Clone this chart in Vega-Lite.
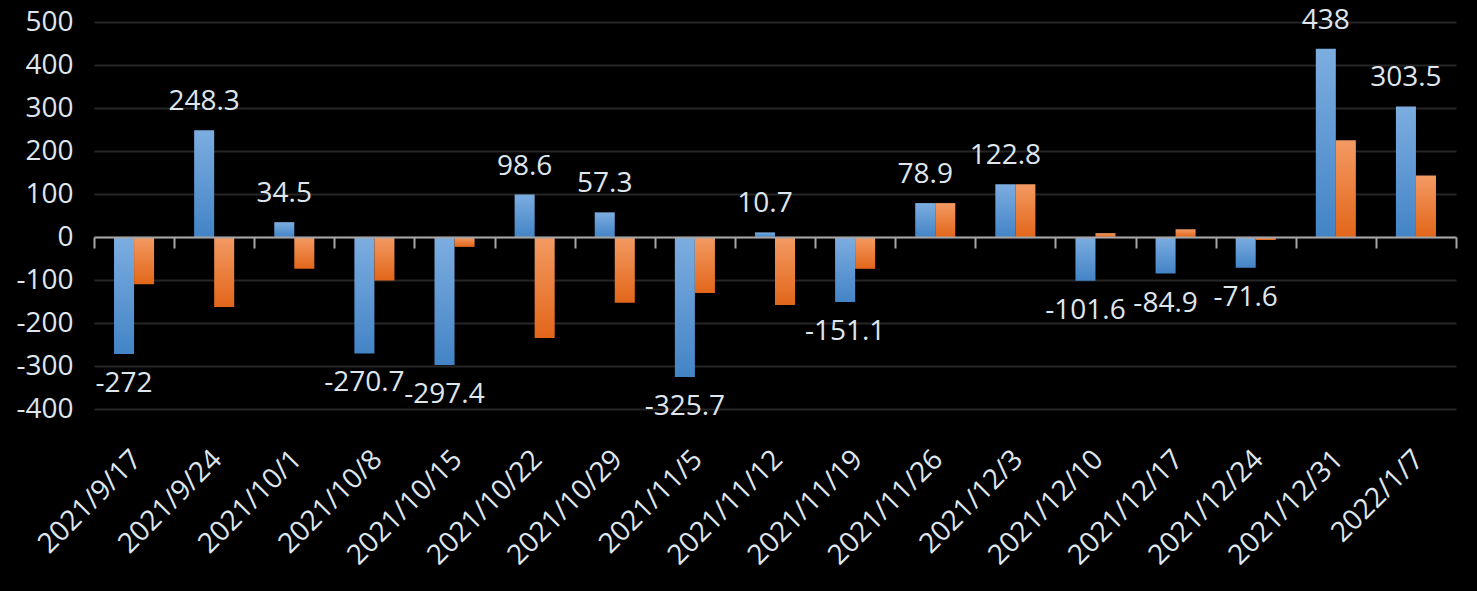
{
  "$schema": "https://vega.github.io/schema/vega-lite/v6.json",
  "width": 1362,
  "height": 387,
  "autosize": "none",
  "padding": {"left": 94, "top": 22, "right": 21, "bottom": 182},
  "background": "#000000",
  "config": {
    "view": {"stroke": null},
    "font": "Open Sans",
    "locale": {"number": {"decimal": ".", "thousands": ",", "grouping": [3], "currency": ["$", ""], "minus": "-"}}
  },
  "data": {
    "values": [
      {"date": "2021/9/17", "series": "s1", "value": -272},
      {"date": "2021/9/17", "series": "s2", "value": -110},
      {"date": "2021/9/24", "series": "s1", "value": 248.3},
      {"date": "2021/9/24", "series": "s2", "value": -163},
      {"date": "2021/10/1", "series": "s1", "value": 34.5},
      {"date": "2021/10/1", "series": "s2", "value": -74},
      {"date": "2021/10/8", "series": "s1", "value": -270.7},
      {"date": "2021/10/8", "series": "s2", "value": -101},
      {"date": "2021/10/15", "series": "s1", "value": -297.4},
      {"date": "2021/10/15", "series": "s2", "value": -23},
      {"date": "2021/10/22", "series": "s1", "value": 98.6},
      {"date": "2021/10/22", "series": "s2", "value": -235},
      {"date": "2021/10/29", "series": "s1", "value": 57.3},
      {"date": "2021/10/29", "series": "s2", "value": -153},
      {"date": "2021/11/5", "series": "s1", "value": -325.7},
      {"date": "2021/11/5", "series": "s2", "value": -130},
      {"date": "2021/11/12", "series": "s1", "value": 10.7},
      {"date": "2021/11/12", "series": "s2", "value": -158},
      {"date": "2021/11/19", "series": "s1", "value": -151.1},
      {"date": "2021/11/19", "series": "s2", "value": -74},
      {"date": "2021/11/26", "series": "s1", "value": 78.9},
      {"date": "2021/11/26", "series": "s2", "value": 78.9},
      {"date": "2021/12/3", "series": "s1", "value": 122.8},
      {"date": "2021/12/3", "series": "s2", "value": 122.8},
      {"date": "2021/12/10", "series": "s1", "value": -101.6},
      {"date": "2021/12/10", "series": "s2", "value": 9},
      {"date": "2021/12/17", "series": "s1", "value": -84.9},
      {"date": "2021/12/17", "series": "s2", "value": 18},
      {"date": "2021/12/24", "series": "s1", "value": -71.6},
      {"date": "2021/12/24", "series": "s2", "value": -7},
      {"date": "2021/12/31", "series": "s1", "value": 438},
      {"date": "2021/12/31", "series": "s2", "value": 225},
      {"date": "2022/1/7", "series": "s1", "value": 303.5},
      {"date": "2022/1/7", "series": "s2", "value": 143}
    ]
  },
  "encoding": {
    "x": {
      "field": "date",
      "type": "nominal",
      "sort": null,
      "scale": {
        "domain": ["2021/9/17", "2021/9/24", "2021/10/1", "2021/10/8", "2021/10/15", "2021/10/22", "2021/10/29", "2021/11/5", "2021/11/12", "2021/11/19", "2021/11/26", "2021/12/3", "2021/12/10", "2021/12/17", "2021/12/24", "2021/12/31", "2022/1/7"],
        "paddingInner": 0,
        "paddingOuter": 0
      },
      "axis": {
        "title": null,
        "orient": "bottom",
        "offset": -172,
        "zindex": 1,
        "grid": false,
        "domainColor": "#a6a6a6",
        "domainWidth": 2,
        "ticks": true,
        "tickBand": "extent",
        "tickColor": "#a6a6a6",
        "tickWidth": 2,
        "tickSize": 11,
        "labelAngle": -45,
        "labelAlign": "right",
        "labelBaseline": "top",
        "labelFontSize": 28,
        "labelFont": "Open Sans",
        "labelColor": "#dfe6ee",
        "labelPadding": 197,
        "labelOffset": -7
      }
    },
    "xOffset": {
      "field": "series",
      "type": "nominal",
      "scale": {"domain": ["s1", "s2"], "paddingInner": 0, "paddingOuter": 1.35}
    },
    "y": {
      "field": "value",
      "type": "quantitative",
      "scale": {"domain": [-400, 500], "nice": false, "zero": false},
      "axis": {
        "title": null,
        "values": [-400, -300, -200, -100, 0, 100, 200, 300, 400, 500],
        "labelExpr": "toString(datum.value)",
        "domain": false,
        "ticks": false,
        "labelPadding": 21,
        "labelFontSize": 28,
        "labelFont": "Open Sans",
        "labelColor": "#dfe6ee",
        "grid": true,
        "gridColor": "#262626",
        "gridWidth": 2
      }
    }
  },
  "layer": [
    {
      "transform": [{"filter": "datum.series === 's1'"}],
      "mark": {
        "type": "bar",
        "color": {"gradient": "linear", "x1": 0, "y1": 0, "x2": 0, "y2": 1,
          "stops": [{"offset": 0, "color": "#7cade0"}, {"offset": 1, "color": "#4384c6"}]}
      }
    },
    {
      "transform": [{"filter": "datum.series === 's2'"}],
      "mark": {
        "type": "bar",
        "color": {"gradient": "linear", "x1": 0, "y1": 0, "x2": 0, "y2": 1,
          "stops": [{"offset": 0, "color": "#f39a63"}, {"offset": 1, "color": "#e2661a"}]}
      }
    },
    {
      "transform": [{"filter": "datum.series === 's1' && datum.value >= 0"}],
      "mark": {"type": "text", "fontSize": 28, "font": "Open Sans", "color": "#dfe6ee", "baseline": "alphabetic", "dy": -20},
      "encoding": {"text": {"field": "value", "type": "quantitative", "format": ".1~f"}}
    },
    {
      "transform": [{"filter": "datum.series === 's1' && datum.value < 0"}],
      "mark": {"type": "text", "fontSize": 28, "font": "Open Sans", "color": "#dfe6ee", "baseline": "alphabetic", "dy": 38},
      "encoding": {"text": {"field": "value", "type": "quantitative", "format": ".1~f"}}
    }
  ]
}
